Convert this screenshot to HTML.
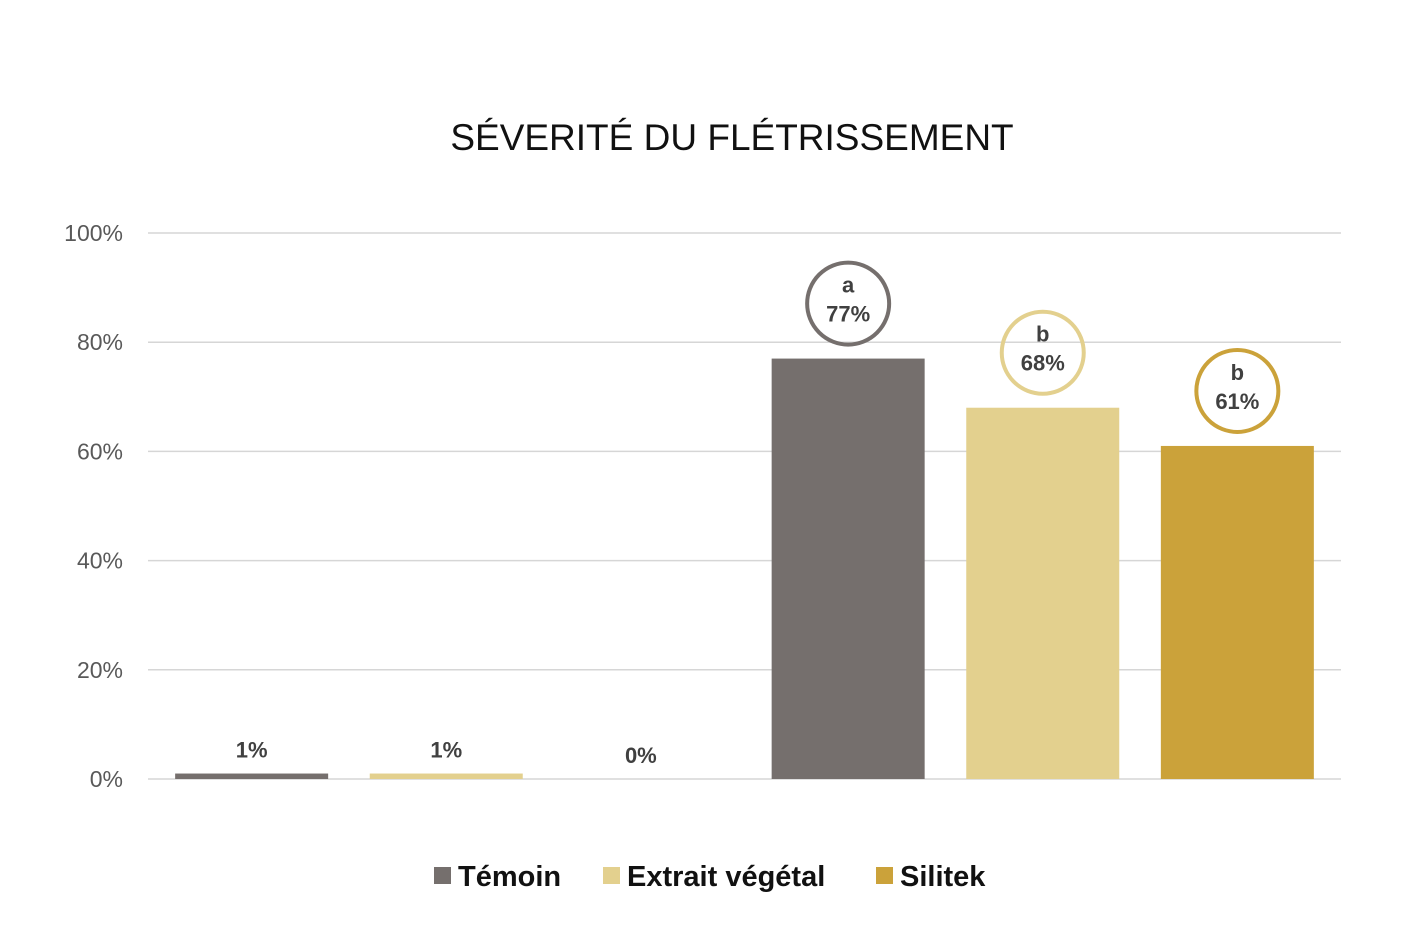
<!DOCTYPE html>
<html><head><meta charset="utf-8"><style>
body{margin:0;background:#fff;font-family:"Liberation Sans",sans-serif;}
svg text{font-family:"Liberation Sans",sans-serif;}
</style></head><body>
<svg width="1408" height="920">
<text x="732" y="150" text-anchor="middle" font-size="37" fill="#111">SÉVERITÉ DU FLÉTRISSEMENT</text>
<g id="grid"></g><g id="bars"></g><g id="legend"></g>
</svg>
<script>
const categories=["A","B"];
const seriesNames=["Témoin","Extrait végétal","Silitek"];
const colors=["#756f6d","#e3d08e","#cba23a"];
const values=[[1,1,0],[77,68,61]];
const letters=[["","",""],["a","b","b"]];
const ticks=[0,20,40,60,80,100];
const ns="http://www.w3.org/2000/svg";
const X0=148,X1=1341,Y0=779,Y100=233;
const y=v=>Y0-(Y0-Y100)*v/100;
function mk(t,a,p){const e=document.createElementNS(ns,t);for(const k in a)e.setAttribute(k,a[k]);p.appendChild(e);return e;}
const grid=document.getElementById('grid'),bars=document.getElementById('bars'),leg=document.getElementById('legend');
ticks.forEach(t=>{
 const l=mk('line',{x1:X0,x2:X1,y1:y(t),y2:y(t),stroke:"#d6d6d6","stroke-width":1.5},grid);
 
 
 const tx=mk('text',{x:123,y:y(t)+8,"text-anchor":"end","font-size":23,fill:"#595959"},grid);
 tx.textContent=t+"%";
 
 
});
const catW=(X1-X0)/categories.length, step=194.6, bw=153;
categories.forEach((c,ci)=>{
 seriesNames.forEach((s,si)=>{
  const v=values[ci][si];
  const cx=X0+ci*catW+catW/2+(si-1)*step;
  const r=mk('rect',{x:cx-bw/2,y:y(v),width:bw,height:Y0-y(v),fill:colors[si]},bars);
  
  
  const lt=letters[ci][si];
  if(lt){
   const cy=y(v)-55;
   const ci2=mk('circle',{cx:cx,cy:cy,r:41,fill:"none",stroke:colors[si],"stroke-width":4},bars);
   
   
   const a=mk('text',{x:cx,y:cy-11,"text-anchor":"middle","font-size":22,"font-weight":"bold",fill:"#404040"},bars);
   a.textContent=lt;
   
   
   const b=mk('text',{x:cx,y:cy+18,"text-anchor":"middle","font-size":22,"font-weight":"bold",fill:"#404040"},bars);
   b.textContent=v+"%";
   
   
  } else {
   const b=mk('text',{x:cx,y:y(v)-16,"text-anchor":"middle","font-size":22,"font-weight":"bold",fill:"#404040"},bars);
   b.textContent=v+"%";
   
   
  }
 });
});
const lx=[434,603,876];
seriesNames.forEach((s,i)=>{
 const r=mk('rect',{x:lx[i],y:867,width:17,height:17,fill:colors[i]},leg);
 
 
 const t=mk('text',{x:lx[i]+24,y:886,"font-size":29,"font-weight":"bold",fill:"#111"},leg);
 t.textContent=s;
 
 
});
</script>
</body></html>
